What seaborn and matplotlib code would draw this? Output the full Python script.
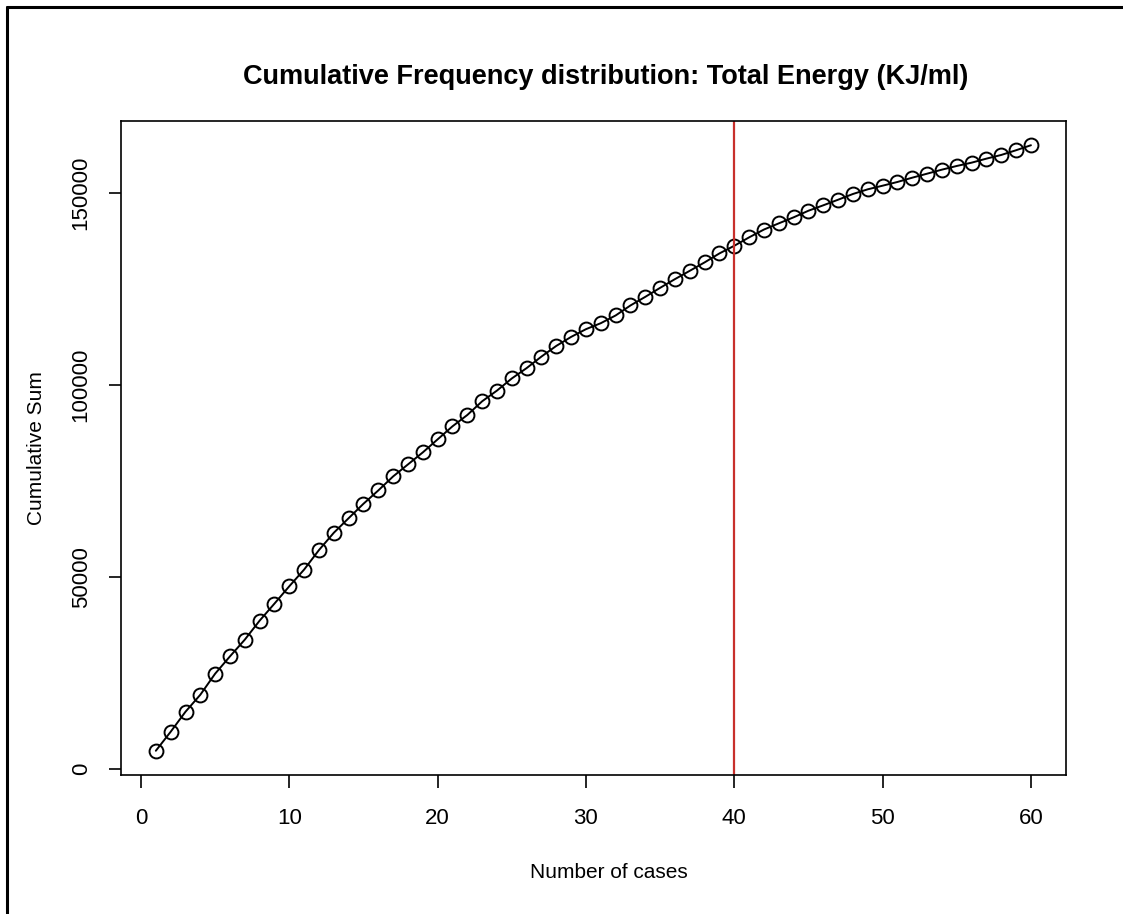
import matplotlib
matplotlib.use("Agg")
import matplotlib.pyplot as plt
import seaborn as sns
import pandas as pd
from matplotlib.lines import Line2D

cases = list(range(1, 61))
cum_sum = [4700, 9650, 14870, 19300, 24790, 29300, 33660, 38610, 43050, 47570,
           51920, 57000, 61500, 65300, 69060, 72530, 76180, 79310, 82440, 85840,
           89230, 92180, 95750, 98540, 101700, 104400, 107410, 110180, 112530, 114540,
           116100, 118110, 120720, 122960, 125310, 127580, 129750, 131940, 134280, 136270,
           138460, 140500, 142110, 143680, 145400, 146810, 148270, 149760, 150980, 151920,
           152890, 154010, 155050, 156100, 157060, 157920, 158970, 159930, 161160, 162460]
x_ticks = [0, 10, 20, 30, 40, 50, 60]
y_ticks = [0, 50000, 100000, 150000]
cutoff = 40

title = "Cumulative Frequency distribution: Total Energy (KJ/ml)"
xlabel = "Number of cases"
ylabel = "Cumulative Sum"

sns.set_style("ticks")
plt.rcParams['font.family'] = ['Liberation Sans', 'DejaVu Sans']
plt.rcParams['text.color'] = 'black'
plt.rcParams['axes.labelcolor'] = 'black'
plt.rcParams['xtick.color'] = 'black'
plt.rcParams['ytick.color'] = 'black'

df = pd.DataFrame({"cases": cases, "cum": cum_sum})

fig = plt.figure(figsize=(11.23, 9.14), dpi=100)
ax = fig.add_axes([0.1076, 0.1521, 0.9492 - 0.1076, 0.8676 - 0.1521])

sns.lineplot(data=df, x="cases", y="cum", ax=ax, color="black", linewidth=1.4,
             marker="o", markersize=10, markerfacecolor="none",
             markeredgecolor="black", markeredgewidth=1.4)

ax.axvline(cutoff, color="#c8302c", linewidth=1.6)

xr = max(cases) - min(cases)
ax.set_xlim(min(cases) - 0.04 * xr, max(cases) + 0.04 * xr)
yr = max(cum_sum) - min(cum_sum)
ax.set_ylim(min(cum_sum) - 0.04 * yr, max(cum_sum) + 0.04 * yr)

ax.set_xticks(x_ticks)
ax.set_xticklabels([str(t) for t in x_ticks], fontsize=16)
ax.set_yticks(y_ticks)
ax.set_yticklabels([str(t) for t in y_ticks], fontsize=16, rotation=90, va="center")
ax.tick_params(axis="both", direction="out", length=9, width=1.2, color="black")
ax.tick_params(axis="x", pad=15)
ax.tick_params(axis="y", pad=12)

for s in ax.spines.values():
    s.set_visible(True)
    s.set_color("black")
    s.set_linewidth(1.2)

ax.set_xlabel(xlabel, fontsize=15, labelpad=24)
ax.xaxis.set_label_coords(0.516, -0.135)
ax.set_ylabel(ylabel, fontsize=15, labelpad=18)
fig.suptitle(title, fontsize=19.5, fontweight="bold", x=0.539, y=0.93)

fig.add_artist(Line2D([0.0062, 0.0062], [0.0, 0.9923], transform=fig.transFigure,
                      color="black", linewidth=2.2))
fig.add_artist(Line2D([0.0062, 1.0], [0.9923, 0.9923], transform=fig.transFigure,
                      color="black", linewidth=2.2))

fig.savefig("out.png", dpi=100, facecolor="white")
